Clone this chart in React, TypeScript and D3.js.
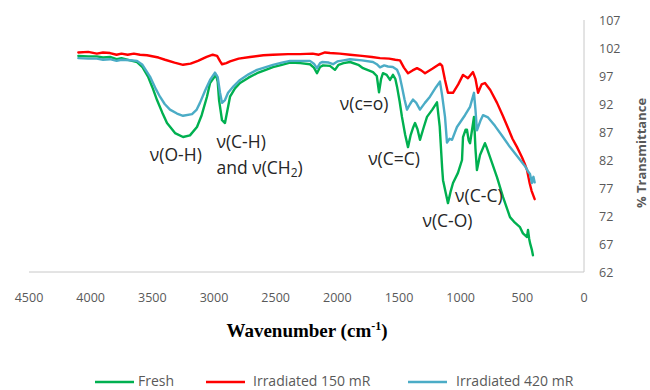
import React from "react";
import * as d3 from "d3";

type Pt = [number, number];

const xTicks = [4500, 4000, 3500, 3000, 2500, 2000, 1500, 1000, 500, 0];
const yTicks = [62, 67, 72, 77, 82, 87, 92, 97, 102, 107];

const irr150Data: Pt[] = [
  [4100, 101.2], [4020, 101.3], [3950, 101.0], [3900, 101.2], [3843, 101.1], [3790, 100.8], [3750, 101.0], [3700, 100.8], [3650, 101.0],
  [3600, 100.8], [3543, 100.7], [3450, 100.3], [3397, 99.9], [3320, 99.4], [3251, 99.0], [3190, 99.2],
  [3130, 99.7], [3060, 100.4], [3010, 100.8], [2975, 100.6], [2950, 99.6], [2935, 99.1], [2900, 99.3],
  [2870, 99.6], [2800, 100.1], [2708, 100.4], [2600, 100.7], [2522, 100.8], [2400, 100.9], [2303, 100.9],
  [2200, 101.0], [2150, 100.8], [2100, 101.2], [2059, 101.1], [1980, 101.0], [1897, 100.8], [1800, 100.6],
  [1720, 100.4], [1654, 100.2], [1580, 100.1], [1530, 99.9], [1492, 99.8], [1460, 98.5], [1427, 97.5],
  [1390, 98.0], [1354, 98.4], [1320, 98.0], [1289, 97.5], [1230, 98.3], [1168, 99.2], [1150, 98.8],
  [1127, 96.3], [1103, 94.0], [1062, 94.0], [1020, 95.5], [981, 97.2], [941, 96.6], [900, 97.7],
  [880, 96.5], [859, 94.0], [830, 95.5], [803, 95.75], [760, 94.5], [705, 92.2], [660, 90.0],
  [616, 87.7], [580, 85.8], [543, 84.3], [503, 82.5], [480, 81.3], [462, 80.2], [440, 77.8],
  [425, 76.5], [400, 75.0],
];

const irr420Data: Pt[] = [
  [4100, 100.2], [4020, 100.1], [3950, 100.1], [3900, 99.9], [3843, 100.0], [3790, 99.7], [3750, 99.9], [3680, 99.8],
  [3624, 99.7], [3580, 99.0], [3519, 96.9], [3470, 94.6], [3438, 93.3], [3400, 92.0], [3357, 91.0],
  [3300, 90.3], [3251, 89.9], [3178, 90.2], [3140, 91.0], [3114, 92.2], [3070, 94.5], [3032, 96.3],
  [2992, 97.6], [2970, 96.8], [2951, 94.0], [2935, 92.2], [2911, 92.7], [2886, 94.0], [2840, 95.2],
  [2789, 96.3], [2720, 97.3], [2651, 98.1], [2580, 98.6], [2522, 99.0], [2450, 99.4], [2384, 99.7],
  [2300, 99.7], [2222, 99.7], [2190, 99.2], [2165, 98.4], [2140, 99.3], [2124, 99.5], [2070, 99.4],
  [2035, 99.1], [2000, 99.6], [1950, 99.8], [1897, 100.0], [1800, 99.8], [1711, 99.5], [1680, 99.1],
  [1654, 98.55], [1620, 98.9], [1589, 98.7], [1550, 98.6], [1516, 98.1], [1495, 97.0], [1476, 95.1],
  [1455, 92.8], [1435, 91.0], [1410, 92.0], [1387, 92.8], [1360, 92.2], [1330, 91.0], [1290, 92.2],
  [1249, 93.3], [1200, 95.0], [1168, 96.0], [1150, 93.5], [1127, 89.7], [1111, 85.1], [1090, 85.8],
  [1070, 85.6], [1030, 87.9], [965, 90.0], [924, 91.5], [892, 94.0], [880, 91.0], [868, 87.3],
  [840, 89.0], [819, 90.0], [778, 89.6], [722, 88.1], [657, 86.1], [600, 84.3], [535, 82.5],
  [500, 81.5], [478, 80.9], [455, 80.0], [438, 79.5], [422, 77.9], [410, 79.0], [400, 78.0],
];

const freshData: Pt[] = [
  [4100, 100.6], [4020, 100.5], [3950, 100.5], [3900, 100.3], [3843, 100.4], [3790, 100.0], [3750, 100.2], [3680, 99.8],
  [3624, 99.5], [3580, 98.6], [3535, 96.9], [3500, 95.0], [3462, 92.7], [3420, 90.5], [3381, 88.6],
  [3316, 86.8], [3251, 86.1], [3195, 86.4], [3138, 87.9], [3100, 90.0], [3057, 93.3], [3032, 95.75],
  [2984, 97.2], [2970, 96.0], [2959, 92.7], [2935, 89.1], [2911, 88.6], [2890, 91.0], [2870, 93.3],
  [2830, 94.8], [2789, 95.75], [2720, 96.7], [2651, 97.5], [2580, 98.1], [2522, 98.6], [2450, 99.0],
  [2384, 99.4], [2300, 99.3], [2222, 99.1], [2190, 98.5], [2165, 97.5], [2140, 98.6], [2116, 98.9],
  [2060, 98.8], [2019, 98.1], [1990, 99.0], [1950, 99.3], [1897, 99.5], [1830, 99.0], [1792, 98.4],
  [1711, 97.7], [1680, 97.0], [1662, 94.1], [1645, 96.5], [1630, 97.5], [1600, 97.2], [1573, 96.3],
  [1549, 97.2], [1530, 96.5], [1516, 95.1], [1495, 92.5], [1476, 89.7], [1450, 86.5], [1427, 84.3],
  [1405, 86.5], [1387, 87.7], [1370, 88.6], [1350, 87.5], [1330, 85.6], [1300, 87.8], [1273, 89.7],
  [1230, 91.0], [1192, 92.3], [1170, 88.0], [1150, 80.5], [1143, 78.4], [1120, 76.0], [1103, 74.3],
  [1080, 76.5], [1062, 77.9], [1022, 79.7], [989, 82.0], [981, 86.1], [960, 87.4], [949, 87.4],
  [935, 85.5], [924, 85.0], [892, 89.7], [880, 84.0], [868, 80.2], [843, 82.9], [803, 85.0],
  [790, 84.3], [762, 82.5], [705, 78.9], [657, 75.4], [600, 71.8], [560, 70.8], [519, 70.0],
  [495, 68.9], [462, 68.25], [454, 69.5], [445, 68.0], [438, 67.2], [422, 65.9], [414, 65.0],
];

const seriesNames = ["Fresh", "Irradiated 150 mR", "Irradiated 420 mR"];
const seriesColors = ["#00B050", "#FF0000", "#4BACC6"];

const W = 650;
const H = 390;

export default function App() {
  const x = d3.scaleLinear().domain([4500, 0]).range([29, 584]);
  const y = d3.scaleLinear().domain([62, 107]).range([272, 20]);
  const line = d3
    .line<Pt>()
    .x((d) => x(d[0]))
    .y((d) => y(d[1]));

  const drawOrder: { data: Pt[]; color: string }[] = [
    { data: freshData, color: seriesColors[0] },
    { data: irr150Data, color: seriesColors[1] },
    { data: irr420Data, color: seriesColors[2] },
  ];

  const tickFont = "'Open Sans', 'Liberation Sans', sans-serif";
  const annFont = "'Open Sans', 'Liberation Sans', sans-serif";
  const annColor = "#262626";

  const legendItems = [
    { x0: 95, tx: 138 },
    { x0: 206, tx: 253 },
    { x0: 408, tx: 456 },
  ];

  return (
    <svg
      width={W}
      height={H}
      style={{ position: "absolute", left: 0, top: 0, background: "#fff" }}
    >
      {/* axes */}
      <line x1={x(4500)} x2={x(0)} y1={y(62)} y2={y(62)} stroke="#c8c8c8" strokeWidth={1} />
      <line x1={x(0)} x2={x(0)} y1={y(62)} y2={y(107)} stroke="#c8c8c8" strokeWidth={1} />

      {xTicks.map((t) => (
        <text
          key={"x" + t}
          x={x(t)}
          y={302}
          textAnchor="middle"
          fontFamily={tickFont}
          fontSize={12.5}
          fill="#595959"
        >
          {t}
        </text>
      ))}
      {yTicks.map((t) => (
        <text
          key={"y" + t}
          x={599}
          y={y(t) + 4.5}
          textAnchor="start"
          fontFamily={tickFont}
          fontSize={12.5}
          fill="#595959"
        >
          {t}
        </text>
      ))}

      {/* series */}
      {drawOrder.map((s, i) => (
        <path
          key={i}
          d={line(s.data) || ""}
          fill="none"
          stroke={s.color}
          strokeWidth={2.4}
          strokeLinejoin="round"
          strokeLinecap="round"
        />
      ))}

      {/* annotations */}
      <g fontFamily={annFont} fontSize={17.5} fill={annColor}>
        <text x={x(3520)} y={y(81.8)}>ν(O-H)</text>
        <text x={x(2980)} y={y(84.1)}>ν(C-H)</text>
        <text x={x(2980)} y={y(79.5)}>
          and ν(CH<tspan fontSize={12} dy={3}>2</tspan>
          <tspan dy={-3}>)</tspan>
        </text>
        <text x={x(1980)} y={y(90.9)}>ν(c=o)</text>
        <text x={x(1750)} y={y(81.1)}>ν(C=C)</text>
        <text x={x(1045)} y={y(74.5)}>ν(C-C)</text>
        <text x={x(1310)} y={y(70.0)}>ν(C-O)</text>
      </g>

      {/* axis titles */}
      <text
        x={307}
        y={337}
        textAnchor="middle"
        fontFamily="'Liberation Serif', 'Times New Roman', serif"
        fontWeight="bold"
        fontSize={19}
        fill="#000"
      >
        Wavenumber (cm<tspan fontSize={12} dy={-7}>-1</tspan>
        <tspan dy={7}>)</tspan>
      </text>
      <text
        transform={`translate(646, 153) rotate(-90)`}
        textAnchor="middle"
        fontFamily={tickFont}
        fontWeight="bold"
        fontSize={13}
        fill="#595959"
      >
        % Transmittance
      </text>

      {/* legend */}
      {seriesNames.map((n, i) => (
        <g key={n}>
          <line
            x1={legendItems[i].x0}
            x2={legendItems[i].x0 + 39}
            y1={382}
            y2={382}
            stroke={seriesColors[i]}
            strokeWidth={2.4}
          />
          <text
            x={legendItems[i].tx}
            y={386}
            fontFamily={tickFont}
            fontSize={14}
            fill="#595959"
          >
            {n}
          </text>
        </g>
      ))}
    </svg>
  );
}
